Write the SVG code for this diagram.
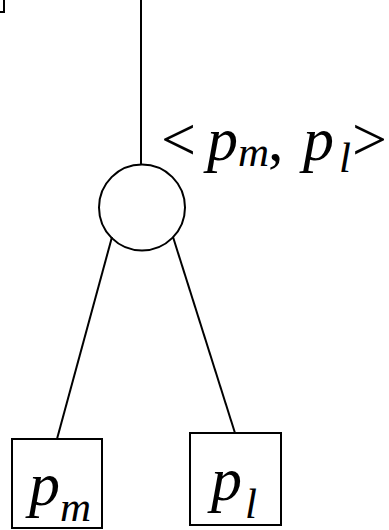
<svg xmlns="http://www.w3.org/2000/svg" width="389" height="530" viewBox="0 0 389 530">
<style>
.s{fill:none;stroke:#000;stroke-width:2}
.t{font-family:"Liberation Serif","Times New Roman",serif;fill:#000}
.i{font-style:italic}
.b{font-size:62px}
.sub{font-size:43px}
</style>
<rect width="389" height="530" fill="#fff"/>
<g id="corner"><path class="s" d="M0 12H4V0"/></g>
<g id="connectors">
<line class="s" x1="141" y1="0" x2="141" y2="165"/>
<line class="s" x1="112" y1="237" x2="57" y2="439"/>
<line class="s" x1="173" y1="237" x2="235" y2="433"/>
</g>
<g id="root">
<circle class="s" cx="142" cy="207.5" r="43"/>
<text class="t b" x="161" y="160">&lt;</text>
<text class="t b i" x="207" y="160">p</text>
<text class="t sub i" x="238" y="166">m</text>
<text class="t b" x="268" y="160">,</text>
<text class="t b i" x="303" y="160">p</text>
<text class="t sub i" x="339" y="172">l</text>
<text class="t b" x="352" y="160">&gt;</text>
</g>
<g id="pm">
<rect class="s" x="12" y="439" width="90" height="89"/>
<text class="t b i" x="29" y="505">p</text><text class="t sub i" x="60" y="521">m</text>
</g>
<g id="pl">
<rect class="s" x="190" y="433" width="91" height="92"/>
<text class="t b i" x="211" y="500">p</text><text class="t sub i" x="245" y="518">l</text>
</g>
</svg>
